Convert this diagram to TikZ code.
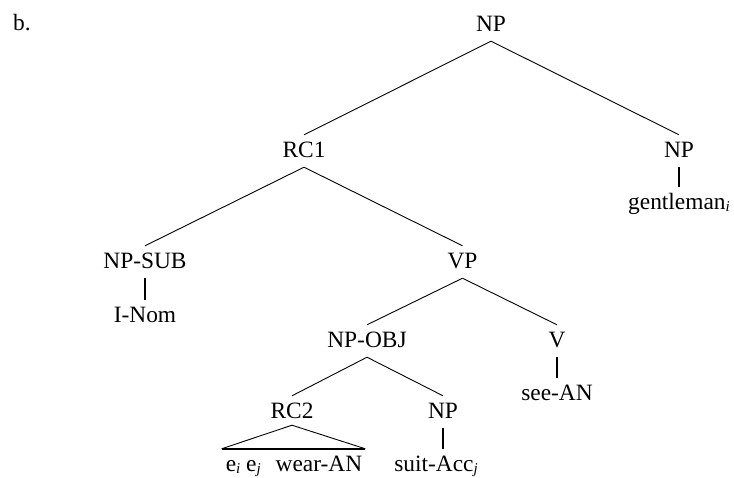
\documentclass[tikz,border=0pt]{standalone}
\usepackage{fontspec}
\setmainfont{Liberation Serif}
\newcommand{\sbi}[1]{\raisebox{-2.5pt}{\fontsize{15}{15}\selectfont\textit{#1}}}
\begin{document}
\begin{tikzpicture}[x=1pt,y=-1pt,
  lab/.style={anchor=base, inner xsep=2pt, inner ysep=6pt, text height=16pt, text depth=4pt, font=\fontsize{23.4}{28}\selectfont},
  edge/.style={line width=0.9pt},
  unary/.style={line width=2.6pt},
  base/.style={line width=2pt}]
\useasboundingbox (0,0) rectangle (734,477);
\node[lab, anchor=base west, inner xsep=0pt] (b) at (13,30) {b.};
\node[lab] (np0) at (491,31) {NP};
\node[lab] (rc1) at (304,157) {RC1};
\node[lab] (np1) at (679,157) {NP};
\node[lab] (gent) at (679,209) {gentleman\sbi{i}};
\node[lab] (npsub) at (145,268) {NP-SUB};
\node[lab] (vp) at (462.5,268) {VP};
\node[lab] (inom) at (145,322) {I-Nom};
\node[lab] (npobj) at (367,347) {NP-OBJ};
\node[lab] (v) at (557,347) {V};
\node[lab] (see) at (557,400) {see-AN};
\node[lab] (rc2) at (292,418) {RC2};
\node[lab] (np2) at (443,418) {NP};
\node[lab] (wear) at (294,471) {e\sbi{i} e\sbi{j}\hspace{9pt} wear-AN};
\node[lab] (suit) at (436,471) {suit-Acc\sbi{j}};
% branches
\draw[edge] (np0.south) -- (rc1.north);
\draw[edge] (np0.south) -- (np1.north);
\draw[edge] (rc1.south) -- (npsub.north);
\draw[edge] (rc1.south) -- (vp.north);
\draw[edge] (vp.south) -- (npobj.north);
\draw[edge] (vp.south) -- (v.north);
\draw[edge] (npobj.south) -- (rc2.north);
\draw[edge] (npobj.south) -- (np2.north);
% unary
\draw[unary] (np1.south) -- (np1.south |- gent.north);
\draw[unary] (npsub.south) -- (npsub.south |- inom.north);
\draw[unary] (v.south) -- (v.south |- see.north);
\draw[unary] (np2.south) -- (np2.south |- suit.north);
% triangle
\draw[edge] ([yshift=3pt]rc2.south) -- ([xshift=-2pt]wear.north west);
\draw[edge] ([yshift=3pt]rc2.south) -- ([xshift=1pt]wear.north east);
\draw[base] ([xshift=-2pt]wear.north west) -- ([xshift=1pt]wear.north east);
\end{tikzpicture}
\end{document}
